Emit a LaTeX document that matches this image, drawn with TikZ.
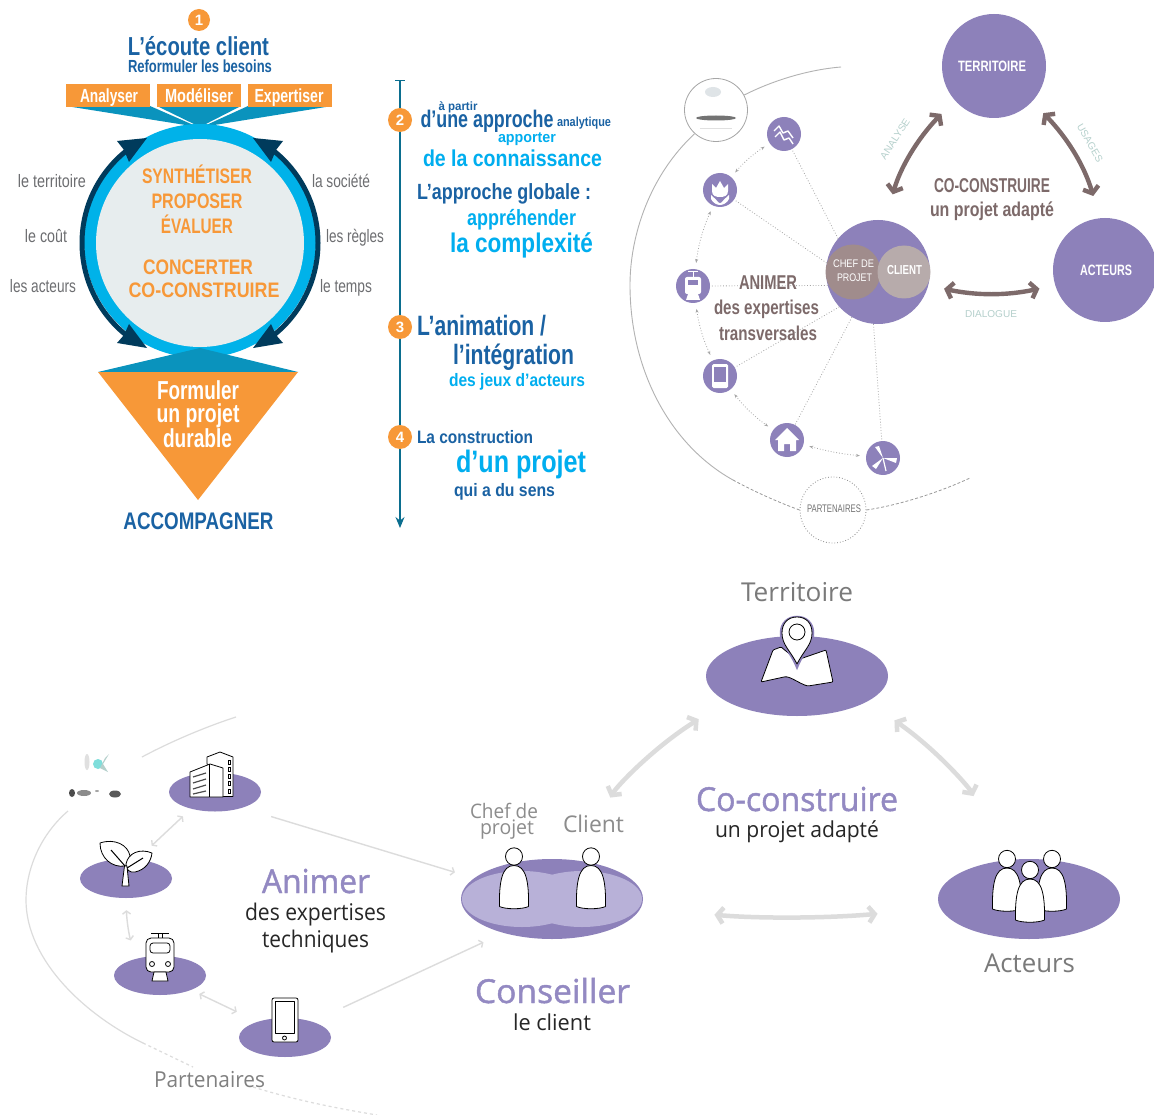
\documentclass[tikz,border=0pt]{standalone}
\usepackage{fontspec}
\setmainfont{Liberation Sans}
\newfontfamily\ubu{Open Sans}
\newfontfamily\ubum[FakeBold=1.3]{Open Sans}
\usetikzlibrary{arrows.meta,calc,shapes.geometric}
\definecolor{cor}{HTML}{F79838}
\definecolor{cnavy}{HTML}{1A62A3}
\definecolor{ccy}{HTML}{00AEEF}
\definecolor{cring}{HTML}{00B2E9}
\definecolor{cteal}{HTML}{0A93BD}
\definecolor{cdark}{HTML}{003B5C}
\definecolor{cdisc}{HTML}{E7EDEE}
\definecolor{cgrey}{HTML}{6D6E71}
\definecolor{cline}{HTML}{0B6E8F}
\definecolor{cpur}{HTML}{8D81BA}
\definecolor{ctpur}{HTML}{9389C2}
\definecolor{clob}{HTML}{B8B1D8}
\definecolor{cbr}{HTML}{7D6A6A}
\definecolor{cchef}{HTML}{A08C8C}
\definecolor{ccli}{HTML}{B7ABAB}
\definecolor{cpale}{HTML}{B5D0CC}
\definecolor{clg}{HTML}{DCDCDC}
\definecolor{ctxt}{HTML}{7A7A7A}
\newcommand\fitt[3]{\resizebox{#1pt}{\height}{\fontsize{#2pt}{#2pt}\selectfont #3}}
\tikzset{
 tbold/.style={anchor=base,inner sep=0pt,font=\bfseries},
 treg/.style={anchor=base,inner sep=0pt},
 tubu/.style={anchor=base,inner sep=0pt,font=\ubu},
 tubub/.style={anchor=base,inner sep=0pt,font=\ubum,text=ctpur},
 numb/.style={circle,fill=cor,text=white,inner sep=0pt,minimum size=22pt,font=\bfseries\fontsize{15pt}{15pt}\selectfont},
 obox/.style={fill=cor,inner sep=0pt,minimum width=84pt,minimum height=23pt},
 big/.style={circle,fill=cpur,inner sep=0pt,minimum size=104pt},
 icirc/.style={circle,fill=cpur,inner sep=0pt,minimum size=34pt},
 oval/.style={ellipse,fill=cpur,inner sep=0pt},
 bigoval/.style={oval,minimum width=182pt,minimum height=80pt},
 smoval/.style={oval,minimum width=92pt,minimum height=39pt},
 dotln/.style={draw=black!35,line width=0.8pt,dotted},
 dotar/.style={dotln,{Stealth[length=4pt,width=3pt]}-{Stealth[length=4pt,width=3pt]},shorten <=6pt,shorten >=6pt},
 brar/.style={draw=cbr,line width=4.4pt,{Straight Barb[length=6pt,width=16pt]}-{Straight Barb[length=6pt,width=16pt]}},
 lgar/.style={draw=clg,line width=4.5pt,{Straight Barb[length=6pt,width=16pt]}-{Straight Barb[length=6pt,width=16pt]}},
 thar/.style={draw=clg,line width=1.4pt,{Straight Barb[length=3pt,width=8pt]}-{Straight Barb[length=3pt,width=8pt]}},
 lnar/.style={draw=clg,line width=1.4pt,-{Straight Barb[length=3pt,width=8pt]}},
 ico/.style={draw=black,line width=0.8pt,fill=white,line join=round},
}
\newcommand\person[2]{\begin{scope}[shift={(#1,#2)}]
 \draw[ico] (-14.5,50) .. controls (-15,25) and (-12,9) .. (0,9) .. controls (12,9) and (15,25) .. (14.5,50) .. controls (8,53) and (-8,53) .. (-14.5,50) -- cycle;
 \draw[ico] (0,0) circle [x radius=8.5pt,y radius=8.7pt];
 \end{scope}}
\begin{document}
\begin{tikzpicture}[x=1pt,y=-1pt]
\useasboundingbox (0,0) rectangle (1154,1115);
\fill[white] (0,0) rectangle (1154,1115);
%% ---------- top left
\node[numb] (n1) at (199,20) {1};
\node[tbold,text=cnavy] (t1) at (198.5,56) {\fitt{141}{26}{L’écoute client}};
\node[tbold,text=cnavy] (t2) at (200,73) {\fitt{144}{17.5}{Reformuler les besoins}};
\fill[cteal] (66,106) -- (150,106) -- (198,127) -- cycle;
\fill[cteal] (157,106) -- (241,106) -- (200,127) -- cycle;
\fill[cteal] (248,106) -- (332,106) -- (202,127) -- cycle;
\node[obox] (b1) at (108,96) {};
\node[obox] (b2) at (199,96) {};
\node[obox] (b3) at (290,96) {};
\node[tbold,text=white] (b1t) at (109,102.5) {\fitt{58}{19}{Analyser}};
\node[tbold,text=white] (b2t) at (199,102.5) {\fitt{68}{19}{Modéliser}};
\node[tbold,text=white] (b3t) at (289,102.5) {\fitt{69}{19}{Expertiser}};
\fill[cring] (200,241) circle [x radius=116pt,y radius=117pt];
\begin{scope}
\clip (60,150) rectangle (340,336);
\draw[cdark,line width=5pt] (200,243) circle [radius=118pt];
\end{scope}
\fill[cdark] (147,138) -- (117,141) -- (124,150) -- (129,162) -- cycle;
\fill[cdark] (147,348) -- (117,343) -- (124,335) -- (129,324) -- cycle;
\fill[cdark] (253,138) -- (283,141) -- (276,150) -- (271,162) -- cycle;
\fill[cdark] (253,348) -- (283,343) -- (276,335) -- (271,324) -- cycle;
\fill[cdisc] (200,243) circle [radius=104pt];
\fill[cteal] (200,348) -- (298,372) -- (98,372) -- cycle;
\fill[cor] (98,372) -- (298,372) -- (198,500) -- cycle;
\node[treg,text=cgrey] (l1) at (52,188) {\fitt{68}{18}{le territoire}};
\node[treg,text=cgrey] (l2) at (46,243) {\fitt{42}{18}{le coût}};
\node[treg,text=cgrey] (l3) at (43,293) {\fitt{66}{18}{les acteurs}};
\node[treg,text=cgrey] (r1) at (341,188) {\fitt{58}{18}{la société}};
\node[treg,text=cgrey] (r2) at (355,243) {\fitt{58}{18}{les règles}};
\node[treg,text=cgrey] (r3) at (346,293) {\fitt{52}{18}{le temps}};
\node[tbold,text=cor] (c1) at (197,184) {\fitt{110}{21}{SYNTHÉTISER}};
\node[tbold,text=cor] (c2) at (197,209) {\fitt{91}{21}{PROPOSER}};
\node[tbold,text=cor] (c3) at (197,234) {\fitt{72}{21}{ÉVALUER}};
\node[tbold,text=cor] (c4) at (198,275) {\fitt{110}{21}{CONCERTER}};
\node[tbold,text=cor] (c5) at (204,298) {\fitt{151}{21}{CO-CONSTRUIRE}};
\node[tbold,text=white] (f1) at (198,399) {\fitt{82}{26}{Formuler}};
\node[tbold,text=white] (f2) at (198,422) {\fitt{83}{26}{un projet}};
\node[tbold,text=white] (f3) at (197.5,447) {\fitt{69}{26}{durable}};
\node[tbold,text=cnavy] (acc) at (198.5,529) {\fitt{150}{24}{ACCOMPAGNER}};
%% ---------- timeline
\coordinate (tl0) at (400,81);
\coordinate (tl1) at (400,528);
\draw[cline,line width=1.2pt,-{Stealth[length=11pt,width=9pt]}] (tl0) -- (tl1);
\draw[cline,line width=1pt] (395,81) -- (405,81);
\node[numb,minimum size=24pt] (n2) at (400,120) {2};
\node[numb,minimum size=24pt] (n3) at (400,327) {3};
\node[numb,minimum size=24pt] (n4) at (400,437) {4};
\node[tbold,text=cnavy] (a1) at (458,111) {\fitt{39}{12}{à partir}};
\node[tbold,text=cnavy] (a2) at (487,128) {\fitt{133}{24}{d’une approche}};
\node[tbold,text=cnavy] (a3) at (584,127) {\fitt{54}{13}{analytique}};
\node[tbold,text=ccy] (a4) at (527,143) {\fitt{58}{15}{apporter}};
\node[tbold,text=ccy] (a5) at (512.5,167) {\fitt{179}{23}{de la connaissance}};
\node[tbold,text=cnavy] (a6) at (504,200) {\fitt{174}{22}{L’approche globale :}};
\node[tbold,text=ccy] (a7) at (521.5,226) {\fitt{109}{22}{appréhender}};
\node[tbold,text=ccy] (a8) at (521.5,253) {\fitt{143}{27}{la complexité}};
\node[tbold,text=cnavy] (a9) at (481.5,335) {\fitt{129}{28}{L’animation /}};
\node[tbold,text=cnavy] (a10) at (513.5,364) {\fitt{121}{28}{l’intégration}};
\node[tbold,text=ccy] (a11) at (517,386) {\fitt{136}{18}{des jeux d’acteurs}};
\node[tbold,text=cnavy] (a12) at (475,443) {\fitt{116}{18}{La construction}};
\node[tbold,text=ccy] (a13) at (521,472) {\fitt{130}{31}{d’un projet}};
\node[tbold,text=cnavy] (a14) at (504.5,496) {\fitt{101}{18}{qui a du sens}};
%% ---------- top right
\node[circle,draw=black!35,line width=0.8pt,fill=white,minimum size=63pt,inner sep=0pt] (logo) at (716,110) {};
\coordinate (uend) at (841,67);
\draw[black!30,line width=0.9pt] (logo.28) .. controls (770,82) and (805,70) .. (uend);
\coordinate (lend) at (733,480);
\draw[black!30,line width=0.9pt] (logo.228) .. controls (650,175) and (630,235) .. (630,285) .. controls (630,370) and (670,445) .. (lend);
\node[circle,draw=black!45,line width=0.8pt,dotted,minimum size=66pt,inner sep=0pt] (part) at (833,510) {};
\draw[black!40,line width=0.8pt,densely dashed] (lend) .. controls (755,492) and (780,503) .. (part.180);
\coordinate (rend) at (970,478);
\draw[black!40,line width=0.8pt,densely dashed] (part.0) .. controls (900,505) and (940,492) .. (rend);
\fill[cyan!15!gray!25] (713,92) ellipse [x radius=8pt,y radius=5pt];
\fill[black!55] (716,118) ellipse [x radius=20pt,y radius=2.5pt];
\draw[black!12,line width=0.8pt] (700,128) -- (732,128);
\node[big] (ter) at (994,66) {};
\node[big] (act) at (1105,270) {};
\node[big] (cen) at (878,272) {};
\node[circle,fill=cchef,minimum size=55pt,inner sep=0pt] (chef) at (853,272) {};
\node[circle,fill=ccli,minimum size=53pt,inner sep=0pt] (cli) at (904,272) {};
\node[icirc] (i1) at (784,134) {};
\node[icirc] (i2) at (720,190) {};
\node[icirc] (i3) at (693,286) {};
\node[icirc] (i4) at (720,376) {};
\node[icirc] (i5) at (787,440) {};
\node[icirc] (i6) at (883,458) {};
\draw[dotln] (cen.140) -- (i1);
\draw[dotln] (cen.170) -- (i2);
\draw[dotln] (cen.195) -- (i3);
\draw[dotln] (cen.222) -- (i4);
\draw[dotln] (cen.240) -- (i5);
\draw[dotln] (cen.265) -- (i6);
\draw[dotar] (i1) to[bend right=8] (i2);
\draw[dotar] (i2) to[bend right=8] (i3);
\draw[dotar] (i3) to[bend right=8] (i4);
\draw[dotar] (i4) to[bend right=8] (i5);
\draw[dotar] (i5) to[bend right=5] (i6);
% icons
\draw[white,line width=1.4pt,line join=round] (774,131) -- (779,126) -- (783,133) -- (788,131) -- (793,138);
\draw[white,line width=1.4pt,line join=round] (775,137) -- (780,132) -- (784,140) -- (789,138) -- (793,144);
\fill[white] (712,184) -- (716,188) -- (720,181) -- (724,188) -- (728,184) -- (728,191) .. controls (728,196) and (724,197) .. (720,197) .. controls (716,197) and (712,196) .. (712,191) -- cycle;
\fill[white] (711,195) .. controls (714,198) and (717,200) .. (719,203) -- (721,203) .. controls (723,200) and (726,198) .. (729,195) -- (729,199) .. controls (727,203) and (723,205) .. (720,205) .. controls (717,205) and (713,203) .. (711,199) -- cycle;
\fill[white,rounded corners=2pt] (685,277) rectangle (701,294);
\fill[white] (688,294) -- (698,294) -- (700,300) -- (686,300) -- cycle;
\draw[white,line width=1pt] (688,272) -- (698,272) (693,272) -- (693,277);
\fill[cpur] (688,280) rectangle (698,285);
\fill[white,rounded corners=1.5pt] (712,364) rectangle (728,388);
\fill[cpur] (714,367) rectangle (726,382);
\fill[white] (787,428) -- (799,440) -- (796,440) -- (796,451) -- (790,451) -- (790,444) -- (784,444) -- (784,451) -- (778,451) -- (778,440) -- (775,440) -- cycle;
\fill[white] (883,458) -- (875,447) -- (879,446) -- cycle;
\fill[white] (883,458) -- (896,463) -- (897,458) -- cycle;
\fill[white] (883,458) -- (876,469) -- (872,466) -- cycle;
\draw[white,line width=1.2pt] (883,458) -- (886,471);
% arrows
\draw[brar,shorten <=27pt,shorten >=19pt] (cen.82) to[bend left=14] (ter.221);
\draw[brar,shorten <=16pt,shorten >=23pt] (ter.317) to[bend left=14] (act.96);
\draw[brar,shorten <=16pt,shorten >=16pt] (cen.-15) to[bend right=12] (act.197);
\node[treg,text=white,font=\bfseries] (tt) at (992,72) {\fitt{68}{15}{TERRITOIRE}};
\node[treg,text=white,font=\bfseries] (at) at (1106,275.5) {\fitt{52}{15}{ACTEURS}};
\node[treg,text=white] (ct1) at (853.5,268) {\fitt{41}{11}{CHEF DE}};
\node[treg,text=white] (ct2) at (854.5,282) {\fitt{35}{11}{PROJET}};
\node[treg,text=white,font=\bfseries] (ct3) at (904.5,275) {\fitt{35}{13}{CLIENT}};
\node[tbold,text=cbr] (k1) at (992,193) {\fitt{116}{20}{CO-CONSTRUIRE}};
\node[tbold,text=cbr] (k2) at (992,217) {\fitt{124}{20}{un projet adapté}};
\node[tbold,text=cbr] (k3) at (768,290) {\fitt{58}{20}{ANIMER}};
\node[tbold,text=cbr] (k4) at (766.5,315) {\fitt{105}{20}{des expertises}};
\node[tbold,text=cbr] (k5) at (768,341) {\fitt{98}{20}{transversales}};
\node[treg,text=cpale,rotate=57,anchor=center] (k6) at (895,139) {\fitt{46}{10}{ANALYSE}};
\node[treg,text=cpale,rotate=-60,anchor=center] (k7) at (1090,143) {\fitt{42}{10}{USAGES}};
\node[treg,text=cpale] (k8) at (991,318) {\fitt{52}{10}{DIALOGUE}};
\node[treg,text=black!55] (k9) at (834,512) {\fitt{54}{11}{PARTENAIRES}};
%% ---------- bottom
\coordinate (bu0) at (142,757);
\coordinate (bu1) at (236,717);
\draw[clg,line width=1.2pt] (bu0) .. controls (170,742) and (205,727) .. (bu1);
\coordinate (bl0) at (68,811);
\coordinate (bl1) at (143,1043);
\draw[clg,line width=1.2pt] (bl0) .. controls (40,835) and (26,870) .. (26,900) .. controls (26,960) and (85,1015) .. (bl1);
\coordinate (bl2) at (193,1067);
\coordinate (bl3) at (253,1087);
\coordinate (bl4) at (377,1115);
\draw[clg,line width=1.2pt,dashed] (bl1) -- (bl2);
\draw[clg,line width=1.2pt,dashed] (bl3) .. controls (295,1100) and (335,1108) .. (bl4);
\fill[black!12] (87,762) ellipse [x radius=2.5pt,y radius=8pt];
\fill[cpale!70!cyan] (98,764) ellipse [x radius=5pt,y radius=5pt];
\fill[cpale] (105,758) -- (109,754) -- (103,764) -- (108,772) -- (100,768) -- cycle;
\fill[black!70] (72,793) ellipse [x radius=3pt,y radius=4pt];
\fill[black!45] (84,793) ellipse [x radius=7pt,y radius=3pt];
\fill[black!65] (115,794) ellipse [x radius=6pt,y radius=3.5pt];
\fill[black!35] (97,791) ellipse [x radius=2pt,y radius=1pt];
\node[bigoval] (tero) at (797,676) {};
\node[bigoval] (ceno) at (552,899) {};
\node[bigoval] (acto) at (1029,899) {};
\node[smoval] (bld) at (215,792) {};
\node[smoval] (lef) at (126,878.5) {};
\node[smoval] (trn) at (160,975.5) {};
\node[smoval] (phn) at (285,1037.5) {};
\begin{scope}
\clip (552,899) ellipse [x radius=91pt,y radius=40pt];
\fill[clob] (522,899) ellipse [x radius=60pt,y radius=28pt];
\fill[clob] (582,899) ellipse [x radius=60pt,y radius=28pt];
\end{scope}
\draw[lgar,shorten <=72pt,shorten >=33pt] (ceno.60) to[bend left=14] (tero.200);
\draw[lgar,shorten <=33pt,shorten >=72pt] (tero.-20) to[bend left=14] (acto.120);
\draw[lgar,shorten <=74pt,shorten >=63pt] (ceno.-6) to[bend right=5] (acto.186);
\draw[thar,shorten <=11pt,shorten >=20pt] (bld.215) -- (lef.60);
\draw[thar,shorten <=12pt,shorten >=19pt] (lef.270) to[bend right=8] (trn.144);
\draw[thar,shorten <=9pt,shorten >=23pt] (trn.-25) -- (phn.150);
\draw[lnar,shorten <=30pt,shorten >=20pt] (bld.-30) -- (ceno.165);
\draw[lnar,shorten <=34pt,shorten >=22pt] (phn.30) -- (ceno.215);
% map + pin
\draw[ico,rounded corners=1pt] (761,682) -- (773,650) -- (781,647) -- (797,660) -- (826,650) -- (833,682) -- (808,686) .. controls (800,684) and (790,676) .. (784,677) -- cycle;
\draw[cpur,line width=2.5pt,fill=white] (797,667) .. controls (790,650) and (781,645) .. (781,633) .. controls (781,623) and (788,617) .. (797,617) .. controls (806,617) and (813,623) .. (813,633) .. controls (813,645) and (804,650) .. (797,667) -- cycle;
\draw[ico] (797,664) .. controls (790,650) and (782,645) .. (782,633) .. controls (782,623) and (788,617) .. (797,617) .. controls (806,617) and (812,623) .. (812,633) .. controls (812,645) and (804,650) .. (797,664) -- cycle;
\draw[ico] (797,632) circle [radius=8pt];
% people
\person{514}{856.5}
\person{591}{856.5}
\person{1007}{859}
\person{1052}{859}
\person{1030}{870}
% building
\draw[ico] (207,763) -- (207,757) -- (220,752) -- (233,757) -- (233,796.5) -- (213,796.5) -- cycle;
\draw[ico] (190,797) -- (190,772) -- (210,764) -- (223,768) -- (223,797) -- cycle;
\draw[black,line width=0.6pt] (209.5,764) -- (209.5,797);
\foreach \yy/\yb in {777/773,783/779,789/785,794/791}{\draw[black!70,line width=1.2pt] (193,\yy) -- (206,\yb);}
\foreach \yy in {760,767,774,781,789}{\draw[black,line width=0.6pt,fill=white] (228,\yy) rectangle (230,\yy+4);}
% leaf
\draw[ico] (100,843) .. controls (115,838) and (128,845) .. (130,856) .. controls (131,862) and (128,866) .. (125,866) .. controls (112,868) and (100,858) .. (100,843) -- cycle;
\draw[ico] (152,853) .. controls (140,848) and (128,853) .. (126,864) .. controls (126,870) and (130,873) .. (135,872) .. controls (145,870) and (151,862) .. (152,853) -- cycle;
\draw[ico] (122,886) -- (124.5,866) -- (127,866) -- (129,886) -- cycle;
\draw[black,line width=1pt] (125,866) -- (111,850) (127,868) -- (143,858);
% train
\draw[ico,rounded corners=5pt] (146,938) rectangle (174,972);
\draw[ico] (154,972) -- (166,972) -- (168,981) -- (152,981) -- cycle;
\draw[black,line width=1pt] (151,933) -- (169,933) (158,933) -- (158,938) (162,933) -- (162,938);
\draw[ico,rounded corners=3pt] (150,943) rectangle (170,953);
\draw[ico] (152,964) circle [radius=2.5pt];
\draw[ico] (168,964) circle [radius=2.5pt];
% phone
\draw[ico,rounded corners=2pt] (272,998) rectangle (298,1042);
\draw[ico] (275,1001) rectangle (294.5,1033);
\draw[ico] (284.5,1038) circle [radius=2pt];
% bottom text
\node[tubu,text=ctxt] (b01) at (797,601) {\fitt{112}{26}{Territoire}};
\node[tubu,text=ctxt] (b02) at (1029.5,972) {\fitt{91}{26}{Acteurs}};
\node[tubu,text=black!45] (b03) at (504,818) {\fitt{68}{20}{Chef de}};
\node[tubu,text=black!45] (b04) at (507,834) {\fitt{54}{20}{projet}};
\node[tubu,text=black!45] (b05) at (593.5,832) {\fitt{61}{23}{Client}};
\node[tubub] (b06) at (797,811) {\fitt{202}{33}{Co-construire}};
\node[tubu,text=black!85] (b07) at (797,837) {\fitt{164}{22}{un projet adapté}};
\node[tubub] (b08) at (552.5,1003) {\fitt{155}{33}{Conseiller}};
\node[tubu,text=black!85] (b09) at (552,1030) {\fitt{78}{22}{le client}};
\node[tubub] (b10) at (316,893) {\fitt{108}{33}{Animer}};
\node[tubu,text=black!85] (b11) at (315.5,920) {\fitt{141}{23}{des expertises}};
\node[tubu,text=black!85] (b12) at (315.5,947) {\fitt{107}{23}{techniques}};
\node[tubu,text=black!50] (b13) at (209.5,1087) {\fitt{111}{22}{Partenaires}};
\end{tikzpicture}
\end{document}
